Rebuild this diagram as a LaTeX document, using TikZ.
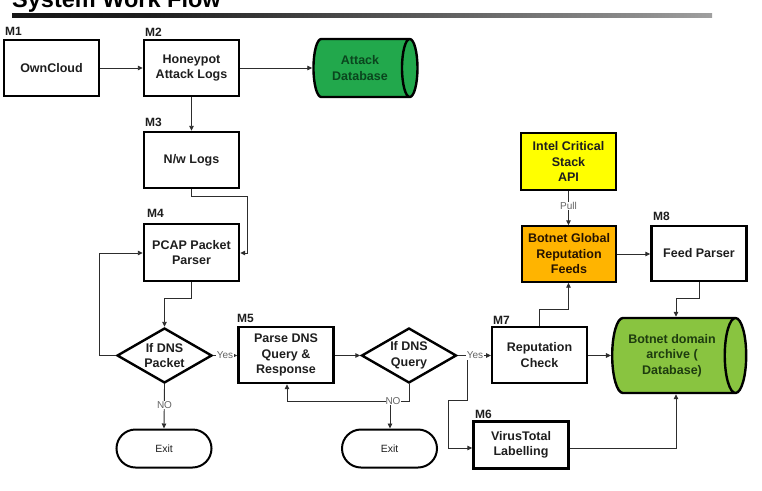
\documentclass[tikz,border=0pt]{standalone}
\usepackage{fontspec}
\setmainfont{Liberation Sans}
\usetikzlibrary{shapes.geometric,arrows.meta}
\definecolor{attackgreen}{RGB}{34,168,76}
\definecolor{archivegreen}{RGB}{137,196,64}
\definecolor{intelyellow}{RGB}{255,255,0}
\definecolor{feedorange}{RGB}{255,180,0}
\definecolor{attacktext}{RGB}{10,70,30}
\definecolor{archivetext}{RGB}{30,60,15}
\definecolor{txt}{RGB}{30,30,30}
\definecolor{linec}{RGB}{45,45,45}
\definecolor{smalltxt}{RGB}{100,100,100}
\pgfdeclarehorizontalshading{titlebar}{100bp}{color(0bp)=(black); color(35bp)=(black!88); color(70bp)=(black!45); color(100bp)=(white)}
\begin{document}
\begin{tikzpicture}[x=1pt,y=-1pt,
  boxfont/.style={font=\fontsize{12.5}{15.5}\selectfont\bfseries},
  box/.style={draw=black, line width=2.4pt, minimum width=95pt, minimum height=56pt, inner sep=1pt, align=center, boxfont, text=txt},
  thinbox/.style={box, line width=1.4pt},
  cyl/.style={cylinder, draw=black, line width=2.4pt, inner sep=1pt, align=center, boxfont},
  dec/.style={diamond, draw=black, line width=2.4pt, minimum width=95pt, minimum height=55pt, inner sep=0pt},
  dectext/.style={align=center, boxfont, text=txt, inner sep=0pt},
  exitbox/.style={draw=black, line width=2pt, rounded corners=19pt, minimum width=95pt, minimum height=38pt, font=\fontsize{10.5}{12}\selectfont, text=txt},
  mlab/.style={font=\fontsize{12}{12}\selectfont\bfseries, anchor=base west, inner sep=0pt, text=txt},
  small/.style={font=\fontsize{10}{11}\selectfont, text=smalltxt, fill=white, inner sep=0.6pt},
  conn/.style={draw=linec, line width=0.9pt, -{Triangle[length=5pt,width=4.5pt]}},
  plain/.style={draw=linec, line width=0.9pt}
]
\useasboundingbox (0,0) rectangle (762,490);
\clip (0,0) rectangle (762,490);

% title
\node[anchor=base west, inner sep=0pt, font=\fontsize{23.5}{24}\selectfont\bfseries] (title) at (12,7.5) {System Work Flow};
\shade[shading=titlebar] (12,13) rectangle (712,17.5);

% nodes
\node[thinbox] (own) at (51.5,68) {OwnCloud};
\node[box] (honey) at (191.5,68) {Honeypot\\Attack Logs};
\node[cyl, fill=attackgreen, text=attacktext, minimum height=104pt, minimum width=58pt, aspect=0.58] (attackdb) at (360,68) {Attack\\Database};
\node[box] (nw) at (191.5,160) {N/w Logs};
\node[box, minimum height=57pt] (pcap) at (191.5,252.5) {PCAP Packet\\Parser};
\node[dec] (dia1) at (164.5,355.5) {};
\node[dectext] (dia1t) at (dia1) {If DNS\\Packet};
\node[exitbox] (exit1) at (164,448.5) {Exit};
\node[box] (parse) at (286,355) {Parse DNS\\Query \&\\Response};
\node[dec] (dia2) at (409,355.5) {};
\node[dectext] (dia2t) at (dia2) {If DNS\\Query};
\node[exitbox] (exit2) at (389.5,448.5) {Exit};
\node[box, line width=2pt] (rep) at (539.5,355) {Reputation\\Check};
\node[box, minimum height=47pt] (vt) at (521,445) {VirusTotal\\Labelling};
\node[box, fill=intelyellow, minimum height=57pt] (intel) at (568.5,161.5) {Intel Critical\\Stack\\API};
\node[thinbox, fill=feedorange, text=black!85!orange, minimum width=94pt] (global) at (569,254) {Botnet Global\\Reputation\\Feeds};
\node[box, minimum height=55pt] (feed) at (699,253.5) {Feed Parser};
\node[cyl, fill=archivegreen, text=archivetext, minimum height=134pt, minimum width=75pt, aspect=0.48] (archive) at (672,355.5) {Botnet domain\\archive (\\Database)};

% module labels
\node[mlab] (m1) at (5,35) {M1};
\node[mlab] (m2) at (145,36) {M2};
\node[mlab] (m3) at (145,126) {M3};
\node[mlab] (m4) at (147,217) {M4};
\node[mlab] (m5) at (237,322) {M5};
\node[mlab] (m7) at (493,324) {M7};
\node[mlab] (m6) at (475,418) {M6};
\node[mlab] (m8) at (653,220) {M8};

% connectors
\draw[conn] (own) -- (honey);
\draw[conn] (honey) -- (attackdb);
\draw[conn] (honey) -- (nw);
\draw[conn] (nw.south) -- (191.5,196) -- (247,196) -- (247,253) -- (pcap.east |- 0,253);
\draw[conn] (pcap.south) -- (191.5,298) -- (164.5,298) -- (dia1.north);
\draw[conn] (dia1.west) -- (99,355.5) -- (99,253) -- (pcap.west |- 0,253);
\draw[conn] (dia1.east) -- (parse.west |- dia1.east);
\node[small] (yes1) at (225,355.5) {Yes};
\draw[conn] (dia1.south) -- (exit1.north);
\node[small] (no1) at (164.5,405) {NO};
\draw[conn] (parse.east |- dia2.west) -- (dia2.west);
\draw[conn] (dia2.south) -- (409,401) -- (287,401) -- (parse.south -| 287,0);
\draw[conn] (390,401) -- (exit2.north -| 390,0);
\node[small, fill=white, inner sep=0pt] (no2) at (393,401) {NO};
\draw[conn] (dia2.east) -- (rep.west |- dia2.east);
\draw[conn] (467,355.5) -- (467,400) -- (448,400) -- (448,448) -- (vt.west |- 0,448);
\node[small] (yes2) at (475,355.5) {Yes};
\draw[conn] (rep.east |- archive.west) -- (archive.west);
\draw[conn] (rep.north) -- (539.5,309) -- (568.5,309) -- (global.south -| 568.5,0);
\draw[conn] (intel.south) -- (global.north -| intel.south);
\node[small] (pull) at (568.5,206) {Pull};
\draw[conn] (global.east) -- (feed.west |- global.east);
\draw[conn] (feed.south) -- (699,298) -- (676,298) -- (archive.north -| 676,0);
\draw[conn] (vt.east |- 0,448) -- (676,448) -- (archive.south -| 676,0);
\end{tikzpicture}
\end{document}
